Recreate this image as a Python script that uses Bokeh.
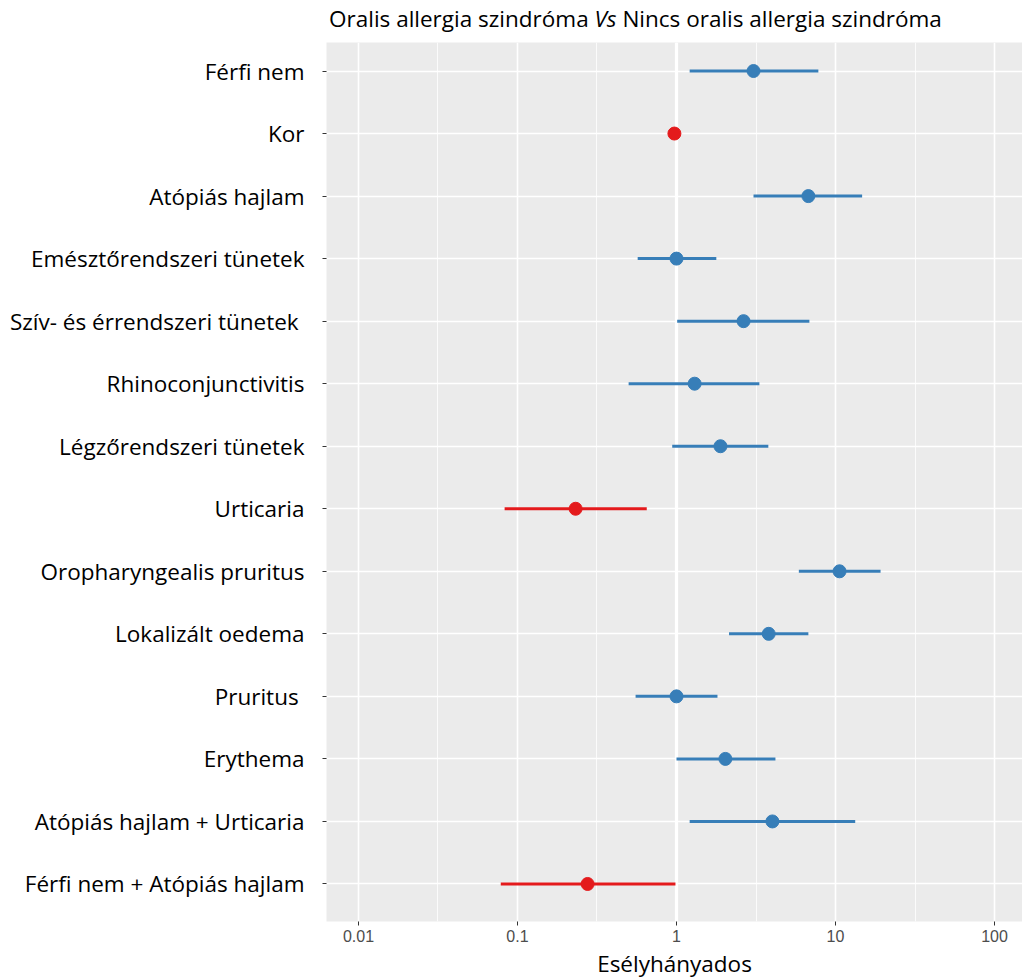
from bokeh.plotting import figure
from bokeh.models import (Range1d, FixedTicker, Span, Div, ColumnDataSource)
from bokeh.layouts import column
from bokeh.embed import file_html
from bokeh.resources import INLINE

# ---- data (top to bottom) ----
labels = [
    "Férfi nem",
    "Kor",
    "Atópiás hajlam",
    "Emésztőrendszeri tünetek",
    "Szív- és érrendszeri  tünetek",
    "Rhinoconjunctivitis",
    "Légzőrendszeri tünetek",
    "Urticaria",
    "Oropharyngealis pruritus",
    "Lokalizált oedema",
    "Pruritus ",
    "Erythema",
    "Atópiás hajlam + Urticaria",
    "Férfi nem + Atópiás hajlam",
]
odds = [3.05, 0.97, 6.75, 1.00, 2.64, 1.30, 1.89, 0.232, 10.6, 3.80, 1.00, 2.03, 4.01, 0.276]
ci_low = [1.21, 0.96, 3.05, 0.57, 1.01, 0.50, 0.94, 0.083, 5.88, 2.14, 0.553, 1.00, 1.21, 0.0785]
ci_high = [7.8, 0.99, 14.7, 1.78, 6.85, 3.32, 3.78, 0.65, 19.2, 6.75, 1.81, 4.19, 13.3, 0.985]
x_ticks = [0.01, 0.1, 1, 10, 100]
x_tick_labels = ["0.01", "0.1", "1", "10", "100"]
x_minor = [10 ** -1.5, 10 ** -0.5, 10 ** 0.5, 10 ** 1.5]

title_before = "Oralis allergia szindróma "
title_italic = "Vs"
title_after = " Nincs oralis allergia szindróma"
x_title = "Esélyhányados"

BLUE = "#377EB8"
RED = "#E41A1C"
LABEL_FONT = "Open Sans"

n = len(labels)
ypos = [n - i for i in range(n)]
colors = [RED if o < 1 else BLUE for o in odds]

src = ColumnDataSource(dict(y=ypos, odds=odds, lo=ci_low, hi=ci_high, color=colors))

p = figure(
    frame_width=696, frame_height=879,
    x_axis_type="log",
    x_range=Range1d(10 ** (-2 - 32 / 159.2), 10 ** (2 + 28 / 159.2)),
    y_range=Range1d(0.4, 14.456),
    output_backend="svg", toolbar_location=None,
    min_border_left=326, min_border_right=0, min_border_top=0, min_border_bottom=40,
)
p.background_fill_color = "#EBEBEB"
p.border_fill_color = "white"
p.outline_line_color = None

# grids
p.xgrid.ticker = FixedTicker(ticks=x_ticks, minor_ticks=x_minor)
p.xgrid.grid_line_color = "white"
p.xgrid.grid_line_width = 1.6
p.xgrid.minor_grid_line_color = "white"
p.xgrid.minor_grid_line_width = 0.8
p.ygrid.ticker = FixedTicker(ticks=ypos)
p.ygrid.grid_line_color = "white"
p.ygrid.grid_line_width = 1.6

vline = Span(location=1, dimension="height", line_color="white", line_width=3.2, level="underlay")
p.add_layout(vline)

# axes
xa = p.xaxis[0]
xa.ticker = FixedTicker(ticks=x_ticks, minor_ticks=[])
xa.major_label_overrides = {t: l for t, l in zip(x_ticks, x_tick_labels)}
xa.axis_line_color = None
xa.major_tick_in = 0
xa.major_tick_out = 4
xa.minor_tick_out = 0
xa.minor_tick_in = 0
xa.major_tick_line_color = "#333333"
xa.major_label_text_font = "Liberation Sans"
xa.major_label_text_font_size = "16px"
xa.major_label_text_color = "#4D4D4D"
xa.major_label_standoff = 4
xa.axis_label = x_title
xa.axis_label_text_font = LABEL_FONT
xa.axis_label_text_font_size = "22.5px"
xa.axis_label_text_font_style = "normal"
xa.axis_label_text_color = "black"
xa.axis_label_standoff = 3

ya = p.yaxis[0]
ya.ticker = FixedTicker(ticks=ypos)
ya.major_label_overrides = {y: l for y, l in zip(ypos, labels)}
ya.axis_line_color = None
ya.major_tick_in = 0
ya.major_tick_out = 4
ya.minor_tick_out = 0
ya.major_tick_line_color = "#333333"
ya.major_label_text_font = LABEL_FONT
ya.major_label_text_font_size = "22.5px"
ya.major_label_text_color = "black"
ya.major_label_standoff = 18

# glyphs
p.segment(x0="lo", x1="hi", y0="y", y1="y", line_color="color", line_width=3, source=src)
p.scatter(x="odds", y="y", size=13, fill_color="color", line_color="color", source=src)

title = Div(
    text=(f'<div style="font-family: \'{LABEL_FONT}\'; font-size: 22.5px; color: black; '
          f'padding-left: 329px; padding-top: 5px; white-space: pre; line-height: 1.2;">'
          f'{title_before}<i>{title_italic}</i>{title_after}</div>'),
    width=1022, height=42, margin=0,
)

layout = column(title, p, spacing=0)
open("out.html", "w").write(file_html(layout, INLINE))
